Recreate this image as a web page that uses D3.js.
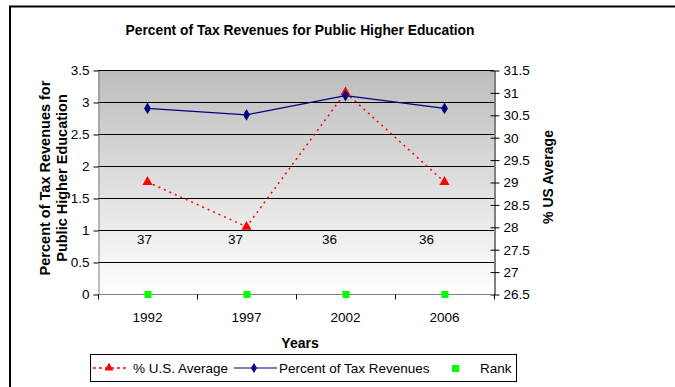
<!DOCTYPE html>
<html>
<head>
<meta charset="utf-8">
<script src="https://cdn.jsdelivr.net/npm/d3@7"></script>
<style>
  html, body { margin: 0; padding: 0; background: #fff; }
  svg { display: block; font-family: "Liberation Sans", Arial, sans-serif; }
</style>
</head>
<body>
<svg id="chart" width="675" height="387"></svg>
<script>
// Data
const years = ["1992", "1997", "2002", "2006"];
const taxRevenuePct = [2.9, 2.8, 3.1, 2.9];     // left axis
const usAveragePct = [29, 28, 31, 29];          // right axis
const rank = [37, 37, 36, 36];                  // shown as labels, markers sit on the baseline
const leftTicks = [0, 0.5, 1, 1.5, 2, 2.5, 3, 3.5];
const rightTicks = [26.5, 27, 27.5, 28, 28.5, 29, 29.5, 30, 30.5, 31, 31.5];

// Layout
const plot = { left: 98, right: 494, top: 70, bottom: 294 };
const rankLabelDx = [-3, -11, -16, -18];
const rankLabelY = 239;
const tickFont = 13.5;

const svg = d3.select("#chart");

// Outer frame (top and left edges)
svg.append("path")
  .attr("d", "M10,387 V6.5 H675")
  .attr("fill", "none").attr("stroke", "#000").attr("stroke-width", 2);

// Title
svg.append("text")
  .attr("x", 300).attr("y", 35)
  .attr("text-anchor", "middle")
  .attr("font-size", 14).attr("font-weight", "bold")
  .attr("textLength", 349).attr("lengthAdjust", "spacingAndGlyphs")
  .text("Percent of Tax Revenues for Public Higher Education");

// Scales
const x = d3.scaleBand().domain(years).range([plot.left, plot.right]);
const yL = d3.scaleLinear().domain([0, 3.5]).range([plot.bottom, plot.top]);
const yR = d3.scaleLinear().domain([26.5, 31.5]).range([plot.bottom, plot.top]);

// Background gradient
const defs = svg.append("defs");
const grad = defs.append("linearGradient")
  .attr("id", "bg").attr("x1", 0).attr("y1", 0).attr("x2", 0).attr("y2", 1);
grad.append("stop").attr("offset", "0%").attr("stop-color", "#bdbdbd");
grad.append("stop").attr("offset", "100%").attr("stop-color", "#ffffff");

svg.append("rect")
  .attr("x", plot.left).attr("y", plot.top)
  .attr("width", plot.right - plot.left).attr("height", plot.bottom - plot.top)
  .attr("fill", "url(#bg)");

// Gridlines
svg.append("g").selectAll("line").data(leftTicks.slice(1)).join("line")
  .attr("x1", plot.left).attr("x2", plot.right)
  .attr("y1", d => Math.round(yL(d)) + 0.5).attr("y2", d => Math.round(yL(d)) + 0.5)
  .attr("stroke", "#000").attr("stroke-width", 1);

// Left axis
const axL = svg.append("g")
  .attr("transform", `translate(${plot.left + 0.5},0.5)`)
  .call(d3.axisLeft(yL).tickValues(leftTicks).tickSize(5).tickSizeOuter(0)
    .tickFormat(d => String(d)));
axL.select(".domain").attr("stroke", "#808080");
axL.selectAll(".tick line").attr("stroke", "#000");
axL.selectAll("text").attr("font-size", tickFont).attr("fill", "#000")
  .attr("font-family", "Liberation Sans, Arial, sans-serif").attr("x", -9);

// Right axis (ticks crossing the axis line)
const axR = svg.append("g")
  .attr("transform", `translate(${plot.right + 0.5},0.5)`)
  .call(d3.axisRight(yR).tickValues(rightTicks).tickSize(5).tickSizeOuter(0)
    .tickFormat(d => String(d)));
axR.select(".domain").attr("stroke", "#808080").attr("stroke-width", 2);
axR.selectAll(".tick line").attr("stroke", "#000").attr("x1", -4);
axR.selectAll("text").attr("font-size", tickFont).attr("fill", "#000")
  .attr("font-family", "Liberation Sans, Arial, sans-serif").attr("x", 9);

// Bottom axis: ticks between categories
const axB = svg.append("g").attr("transform", `translate(0,${plot.bottom + 0.5})`);
axB.append("line")
  .attr("x1", plot.left).attr("x2", plot.right)
  .attr("stroke", "#808080").attr("stroke-width", 1);
const boundaries = d3.range(years.length + 1).map(i => plot.left + i * x.step());
axB.selectAll("line.tk").data(boundaries).join("line").attr("class", "tk")
  .attr("x1", d => Math.round(d) + 0.5).attr("x2", d => Math.round(d) + 0.5)
  .attr("y1", 0).attr("y2", 5).attr("stroke", "#000");
axB.selectAll("text").data(years).join("text")
  .attr("x", d => x(d) + x.bandwidth() / 2).attr("y", 27)
  .attr("text-anchor", "middle").attr("font-size", tickFont).text(d => d);

// Axis titles
svg.append("text")
  .attr("transform", "translate(300,348)")
  .attr("text-anchor", "middle").attr("font-size", 14).attr("font-weight", "bold")
  .text("Years");

const leftTitle = svg.append("text")
  .attr("transform", "translate(54,178) rotate(-90)")
  .attr("text-anchor", "middle").attr("font-size", 14.5).attr("font-weight", "bold");
leftTitle.append("tspan").attr("x", 0).attr("dy", "-0.3em").text("Percent of Tax Revenues for");
leftTitle.append("tspan").attr("x", 0).attr("dy", "1.2em").text("Public Higher Education");

svg.append("text")
  .attr("transform", "translate(553,177) rotate(-90)")
  .attr("text-anchor", "middle").attr("font-size", 14).attr("font-weight", "bold")
  .text("% US Average");

const cx = d => x(d) + x.bandwidth() / 2;

// % U.S. Average series (right axis)
const lineR = d3.line().x((d, i) => cx(years[i])).y(d => yR(d));
svg.append("path").datum(usAveragePct)
  .attr("d", lineR).attr("fill", "none")
  .attr("stroke", "#ff0000").attr("stroke-width", 1.5).attr("stroke-dasharray", "2,4");
svg.append("g").selectAll("path").data(usAveragePct).join("path")
  .attr("transform", (d, i) => `translate(${cx(years[i])},${yR(d)})`)
  .attr("d", d3.symbol(d3.symbolTriangle, 45))
  .attr("fill", "#ff0000");

// Percent of Tax Revenues series (left axis)
const lineL = d3.line().x((d, i) => cx(years[i])).y(d => yL(d));
svg.append("path").datum(taxRevenuePct)
  .attr("d", lineL).attr("fill", "none")
  .attr("stroke", "#000080").attr("stroke-width", 1.2);
svg.append("g").selectAll("path").data(taxRevenuePct).join("path")
  .attr("transform", (d, i) => `translate(${cx(years[i])},${yL(d)})`)
  .attr("d", d3.symbol(d3.symbolDiamond, 40))
  .attr("fill", "#000080");

// Rank markers on the baseline, with their values as labels
svg.append("g").selectAll("rect").data(rank).join("rect")
  .attr("x", (d, i) => cx(years[i]) - 3).attr("y", yL(0) - 3)
  .attr("width", 7).attr("height", 7).attr("fill", "#00ff00");
svg.append("g").selectAll("text").data(rank).join("text")
  .attr("x", (d, i) => cx(years[i]) + rankLabelDx[i]).attr("y", rankLabelY + 5)
  .attr("text-anchor", "middle").attr("font-size", tickFont).text(d => d);

// Legend
const lg = svg.append("g");
lg.append("rect").attr("x", 90.5).attr("y", 354.5).attr("width", 426).attr("height", 27)
  .attr("fill", "#fff").attr("stroke", "#000").attr("stroke-width", 1);
const ly = 368;
lg.append("line").attr("x1", 93).attr("x2", 128).attr("y1", ly).attr("y2", ly)
  .attr("stroke", "#ff0000").attr("stroke-width", 1.5).attr("stroke-dasharray", "3,3");
lg.append("path").attr("transform", `translate(109,${ly})`)
  .attr("d", d3.symbol(d3.symbolTriangle, 35)).attr("fill", "#ff0000");
lg.append("text").attr("x", 133).attr("y", ly + 5).attr("font-size", 13.5).text("% U.S. Average");
lg.append("line").attr("x1", 234).attr("x2", 277).attr("y1", ly).attr("y2", ly)
  .attr("stroke", "#000080").attr("stroke-width", 1.2);
lg.append("path").attr("transform", `translate(254,${ly})`)
  .attr("d", d3.symbol(d3.symbolDiamond, 30)).attr("fill", "#000080");
lg.append("text").attr("x", 279).attr("y", ly + 5).attr("font-size", 13.5).text("Percent of Tax Revenues");
lg.append("rect").attr("x", 452).attr("y", ly - 3).attr("width", 7).attr("height", 7).attr("fill", "#00ff00");
lg.append("text").attr("x", 480).attr("y", ly + 5).attr("font-size", 13.5).text("Rank");
</script>
</body>
</html>
